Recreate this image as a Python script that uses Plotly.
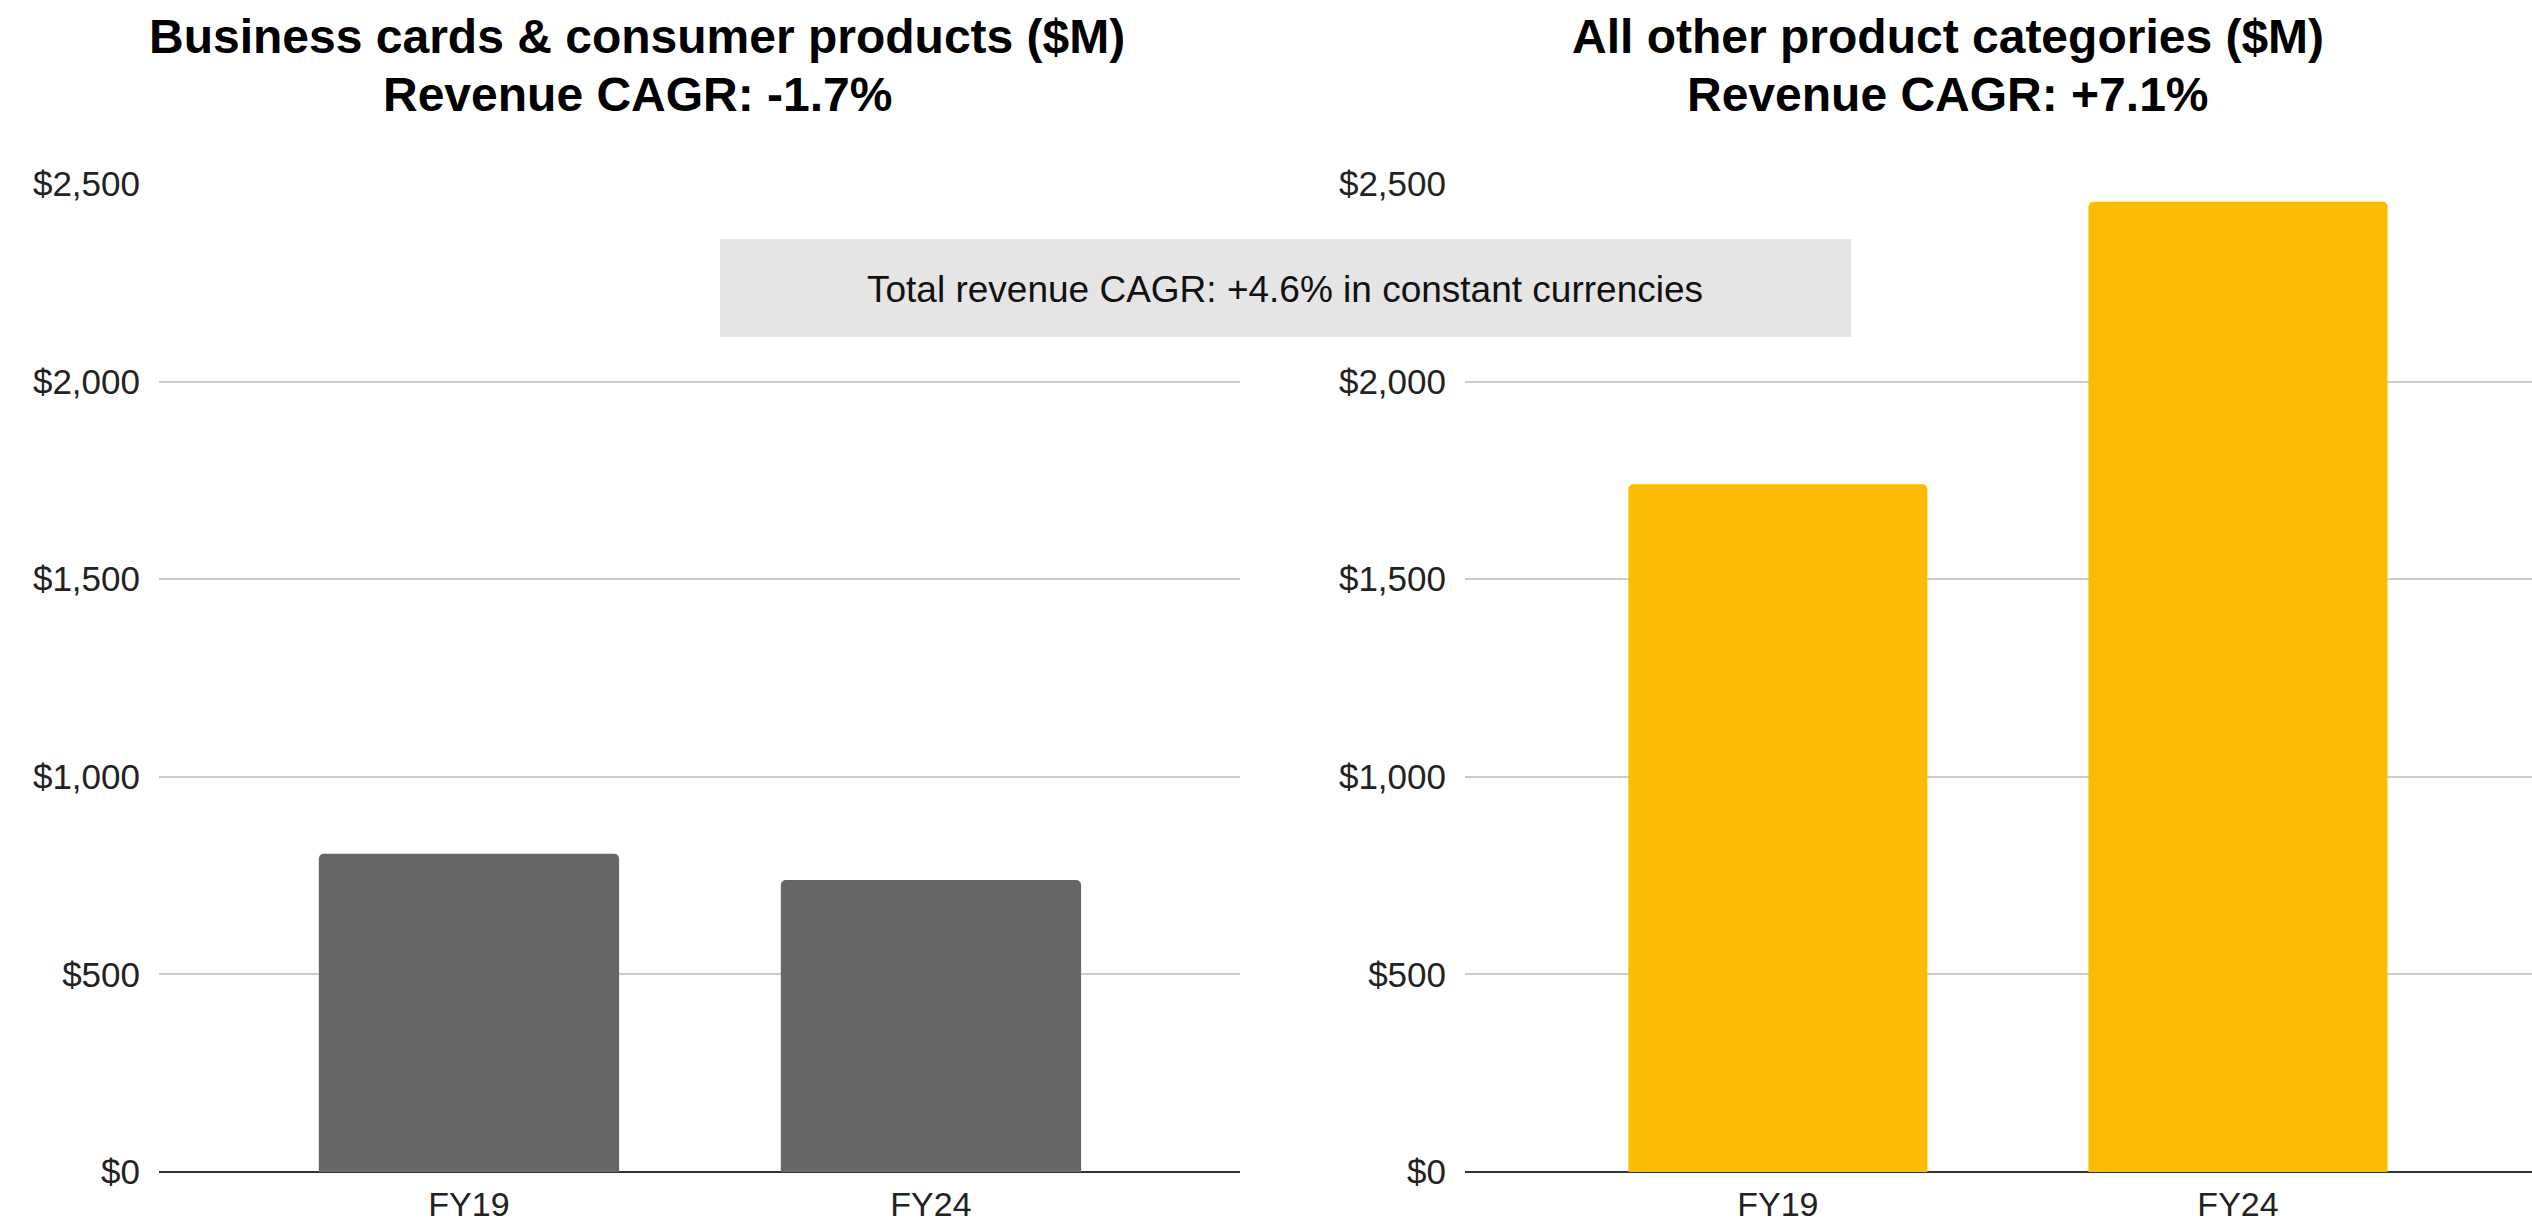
import plotly.graph_objects as go

# ---- data ----
categories = ["FY19", "FY24"]
biz_cards_revenue = [805, 739]          # $M, Business cards & consumer products
other_revenue = [1740, 2455]            # $M, All other product categories
y_tick_values = [0, 500, 1000, 1500, 2000, 2500]
y_tick_labels = ["$0", "$500", "$1,000", "$1,500", "$2,000", "$2,500"]
left_title = ["Business cards & consumer products ($M)", "Revenue CAGR: -1.7%"]
right_title = ["All other product categories ($M)", "Revenue CAGR: +7.1%"]
note_text = "Total revenue CAGR: +4.6% in constant currencies"

W, H = 2532, 1227
FONT = "Arial, 'Liberation Sans', sans-serif"

def px_x(p):
    return p / W

def px_y(p):
    return 1 - p / H

fig = go.Figure()
fig.add_trace(go.Bar(x=categories, y=biz_cards_revenue, xaxis="x", yaxis="y",
                     marker=dict(color="#666666", cornerradius=5, line=dict(width=0)),
                     hoverinfo="x+y", showlegend=False))
fig.add_trace(go.Bar(x=categories, y=other_revenue, xaxis="x2", yaxis="y2",
                     marker=dict(color="#F9BC02", cornerradius=5, line=dict(width=0)),
                     hoverinfo="x+y", showlegend=False))

y_dom = [px_y(1172), px_y(184)]
common_y = dict(range=[0, 2500], tickvals=y_tick_values, ticktext=y_tick_labels,
                showgrid=True, gridcolor="#cccccc", gridwidth=2,
                zeroline=True, zerolinecolor="#333333", zerolinewidth=2,
                showline=False, ticks="", ticklabelstandoff=18,
                tickfont=dict(family=FONT, size=35, color="#222222"),
                domain=y_dom, fixedrange=True, automargin=False)
common_x = dict(type="category", showgrid=False, zeroline=False, showline=False,
                ticks="", ticklabelstandoff=9,
                tickfont=dict(family=FONT, size=34, color="#222222"),
                fixedrange=True, automargin=False)

fig.update_layout(
    width=W, height=H, autosize=False,
    margin=dict(l=0, r=0, t=0, b=0, pad=0, autoexpand=False),
    paper_bgcolor="white", plot_bgcolor="white",
    bargap=0.35,
    xaxis=dict(common_x, domain=[px_x(159), px_x(1240)], range=[-0.671, 1.669], anchor="y"),
    yaxis=dict(common_y, anchor="x"),
    xaxis2=dict(common_x, domain=[px_x(1465), 1.0], range=[-0.68, 1.639], anchor="y2"),
    yaxis2=dict(common_y, anchor="x2"),
    font=dict(family=FONT, color="#000000"),
)

annotations = []
for cx, lines in [(637, left_title), (1948, right_title)]:
    for line, cy in zip(lines, [36, 94]):
        annotations.append(dict(
            x=px_x(cx), y=px_y(cy), xref="paper", yref="paper",
            text="<b>%s</b>" % line, showarrow=False,
            xanchor="center", yanchor="middle",
            font=dict(family=FONT, size=48, color="#000000")))

annotations.append(dict(
    x=px_x(1285), y=px_y(289), xref="paper", yref="paper",
    text=note_text, showarrow=False, xanchor="center", yanchor="middle",
    font=dict(family=FONT, size=37, color="#111111")))

fig.update_layout(annotations=annotations)
fig.add_shape(type="rect", xref="paper", yref="paper",
              x0=px_x(720), x1=px_x(1851), y0=px_y(337), y1=px_y(239),
              fillcolor="#e5e5e5", line=dict(width=0), layer="above")

post = (
    "document.documentElement.style.margin='0';"
    "document.body.style.margin='0';"
    "document.documentElement.style.overflow='hidden';"
    "document.body.style.overflow='hidden';"
)

fig.write_html("out.html", include_plotlyjs=True,
               config={"displayModeBar": False},
               post_script=post)
